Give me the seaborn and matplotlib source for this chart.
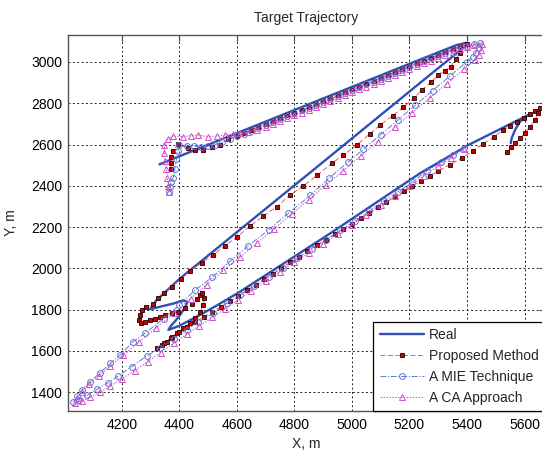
import matplotlib
matplotlib.use("Agg")
import matplotlib.pyplot as plt
import seaborn as sns

# ---------------- data ----------------
real_x = [4331, 4450, 4600, 4800, 5000, 5200, 5364, 5395, 5405, 5380, 5260, 4866, 4403, 4320, 4298,
          4330, 4380, 4414, 4428, 4420, 4395, 4370, 4362, 4400, 4461, 4524, 4611, 4925, 5237, 5405,
          5560, 5613, 5584, 5567, 5555, 5552]
real_y = [2504, 2571, 2655, 2767, 2879, 2991, 3082, 3092, 3090, 3060, 2925, 2477, 1952, 1845, 1802,
          1813, 1830, 1845, 1838, 1810, 1760, 1720, 1702, 1722, 1766, 1815, 1887, 2170, 2461, 2598,
          2706, 2743, 2711, 2671, 2630, 2606]

prop_x = [4371, 4371, 4371, 4379, 4395, 4431, 4455, 4484, 4513, 4540,
          4570, 4600, 4625, 4650, 4675, 4700, 4725, 4750, 4775, 4800, 4825, 4850, 4875, 4900, 4925,
          4950, 4975, 5000, 5025, 5050, 5075, 5100, 5125, 5150, 5175, 5200, 5225, 5250, 5275, 5300,
          5325, 5350, 5375, 5399,
          5376, 5360, 5343, 5322, 5300, 5274, 5243, 5214, 5179, 5142, 5098, 5061, 5017, 4970, 4930,
          4880, 4831, 4785, 4739, 4692, 4646, 4602, 4559, 4518, 4478, 4437, 4405, 4374, 4345, 4327, 4308,
          4285, 4270, 4264, 4260, 4267, 4281, 4298, 4316, 4333, 4350, 4374, 4397, 4420, 4443, 4461,
          4472, 4480, 4486, 4484, 4472, 4455, 4437, 4414, 4391, 4374, 4356, 4339, 4322,
          4345, 4372, 4400, 4428, 4455, 4485, 4515, 4545, 4575, 4605, 4635, 4665, 4695, 4725, 4755,
          4785, 4815, 4845, 4878, 4910, 4940, 4970, 5000, 5030, 5060, 5090, 5120, 5150, 5180, 5210,
          5240, 5270, 5300, 5340, 5382, 5420, 5457, 5492, 5524, 5550, 5575, 5598, 5619, 5637, 5654,
          5648, 5637, 5619, 5602, 5584, 5567, 5552, 5538]
prop_y = [2480, 2510, 2541, 2570, 2601, 2582, 2574, 2574, 2590, 2600,
          2626, 2643, 2657, 2671, 2685, 2699, 2713, 2727, 2741, 2755, 2769, 2783, 2797, 2811, 2825,
          2839, 2853, 2867, 2881, 2895, 2909, 2923, 2937, 2951, 2965, 2979, 2993, 3007, 3021, 3035,
          3049, 3063, 3075, 3087,
          3042, 3012, 2977, 2958, 2937, 2902, 2864, 2824, 2781, 2740, 2695, 2650, 2598, 2549, 2509,
          2452, 2399, 2356, 2299, 2254, 2205, 2154, 2110, 2065, 2028, 1987, 1949, 1911, 1879, 1855, 1827,
          1812, 1798, 1774, 1750, 1737, 1742, 1750, 1755, 1766, 1774, 1782, 1790, 1807, 1828, 1850,
          1871, 1879, 1855, 1823, 1790, 1758, 1734, 1710, 1685, 1669, 1645, 1629, 1613,
          1637, 1664, 1690, 1716, 1742, 1765, 1789, 1815, 1840, 1866, 1894, 1921, 1948, 1975, 2002,
          2029, 2056, 2083, 2113, 2139, 2165, 2191, 2217, 2243, 2269, 2295, 2321, 2347, 2373, 2399,
          2424, 2448, 2472, 2503, 2533, 2570, 2604, 2636, 2668, 2690, 2711, 2728, 2746, 2760, 2776,
          2751, 2719, 2687, 2657, 2630, 2606, 2587, 2565]

mie_x = [4365, 4368, 4372, 4379, 4384, 4390, 4395, 4400, 4426, 4450,
         4475, 4500, 4525, 4550, 4575, 4600, 4625, 4650, 4675, 4700, 4725, 4750, 4775, 4800, 4825,
         4850, 4875, 4900, 4925, 4950, 4975, 5000, 5025, 5050, 5075, 5100, 5125, 5150, 5175, 5200,
         5225, 5250, 5275, 5300, 5325, 5350, 5375, 5400, 5425, 5446,
         5440, 5430, 5420, 5399, 5340, 5280, 5220, 5160, 5100, 5040, 4988, 4920, 4855, 4779, 4710,
         4640, 4576, 4515, 4455, 4400, 4345, 4281, 4240, 4194, 4160, 4125, 4090, 4061, 4045, 4032,
         4050, 4080, 4113, 4153, 4186, 4235, 4287, 4333, 4380, 4425, 4466, 4518, 4565, 4611, 4660,
         4710, 4760, 4810, 4860, 4910, 4960, 5010, 5060, 5110, 5160, 5210, 5260, 5310, 5350, 5390]
mie_y = [2372, 2395, 2418, 2440, 2480, 2530, 2570, 2598, 2592, 2593,
         2588, 2592, 2600, 2611, 2625, 2639, 2653, 2667, 2681, 2695, 2709, 2723, 2737, 2751, 2765,
         2779, 2793, 2807, 2821, 2835, 2849, 2863, 2877, 2891, 2905, 2919, 2933, 2947, 2961, 2975,
         2989, 3003, 3017, 3031, 3045, 3059, 3070, 3079, 3086, 3091,
         3068, 3045, 3025, 3001, 2931, 2861, 2790, 2719, 2648, 2577, 2517, 2436, 2353, 2267, 2186,
         2110, 2034, 1958, 1895, 1822, 1757, 1686, 1645, 1580, 1540, 1495, 1451, 1411, 1380, 1354,
         1362, 1385, 1414, 1446, 1477, 1524, 1576, 1613, 1660, 1703, 1742, 1782, 1831, 1870, 1913,
         1958, 2003, 2048, 2093, 2138, 2185, 2231, 2278, 2325, 2371, 2418, 2472, 2513, 2550, 2585]

ca_x = [4365, 4362, 4358, 4355, 4350, 4348, 4348, 4360, 4379, 4414, 4440, 4466, 4501, 4530, 4559,
        4585, 4611, 4640,
        4670, 4700, 4725, 4750, 4775, 4800, 4825, 4850, 4875, 4900, 4925, 4950, 4975, 5000, 5025,
        5050, 5075, 5100, 5125, 5150, 5175, 5200, 5225, 5250, 5275, 5300, 5325, 5350, 5375, 5400,
        5425, 5452,
        5448, 5440, 5428, 5390, 5330, 5270, 5210, 5150, 5090, 5030, 4970, 4910, 4850, 4790, 4730,
        4670, 4610, 4553, 4495, 4440, 4380, 4320, 4260, 4205, 4160, 4120, 4085, 4060, 4045, 4038,
        4060, 4090, 4125, 4160, 4200, 4245, 4290, 4335, 4380, 4425, 4470, 4515, 4560, 4605, 4650,
        4700, 4750, 4800, 4850, 4900, 4950, 5000, 5050, 5100, 5150, 5200, 5250, 5300, 5345, 5390]
ca_y = [2372, 2400, 2440, 2480, 2520, 2560, 2598, 2625, 2641, 2638, 2643, 2646, 2638, 2641, 2646,
        2650, 2655, 2660,
        2668, 2685, 2699, 2713, 2727, 2741, 2755, 2769, 2783, 2797, 2811, 2825, 2839, 2853, 2867,
        2881, 2895, 2909, 2923, 2937, 2951, 2965, 2979, 2993, 3007, 3021, 3035, 3049, 3061, 3071,
        3080, 3088,
        3060, 3035, 3010, 2965, 2895, 2825, 2755, 2684, 2614, 2544, 2474, 2404, 2333, 2263, 2193,
        2123, 2053, 1990, 1921, 1854, 1783, 1713, 1643, 1579, 1526, 1479, 1438, 1400, 1370, 1346,
        1356, 1375, 1400, 1430, 1465, 1505, 1548, 1592, 1637, 1680, 1722, 1763, 1805, 1848, 1890,
        1939, 1984, 2029, 2074, 2120, 2165, 2212, 2259, 2306, 2352, 2400, 2448, 2495, 2537, 2578]

x_ticks = [4200, 4400, 4600, 4800, 5000, 5200, 5400, 5600]
y_ticks = [1400, 1600, 1800, 2000, 2200, 2400, 2600, 2800, 3000]
labels = ["Real", "Proposed Method", "A MIE Technique", "A CA Approach"]

# ---------------- styling ----------------
sns.set_style("white")
plt.rcParams["font.family"] = ["Liberation Sans", "DejaVu Sans"]

W, H = 542, 451
fig = plt.figure(figsize=(W / 100, H / 100), dpi=100)
L, R, T, B = 67.7, 545.0, 34.7, 411.0
ax = fig.add_axes([L / W, (H - B) / H, (R - L) / W, (B - T) / H])

sns.lineplot(x=real_x, y=real_y, sort=False, estimator=None, ax=ax,
             color="#2f4fb5", linewidth=1.7, label=labels[0])
sns.lineplot(x=prop_x, y=prop_y, sort=False, estimator=None, ax=ax,
             color="#ff3a3a", linewidth=0.6, linestyle=(0, (6, 3)),
             marker="s", markersize=2.4, markerfacecolor="#c80000",
             markeredgecolor="#1a0000", markeredgewidth=0.6, label=labels[1])
sns.lineplot(x=mie_x, y=mie_y, sort=False, estimator=None, ax=ax,
             color="#4a66cc", linewidth=0.6, linestyle=(0, (7, 2, 1.5, 2)),
             marker="o", markersize=4.2, markerfacecolor="none",
             markeredgecolor="#5a74d4", markeredgewidth=0.7, label=labels[2])
sns.lineplot(x=ca_x, y=ca_y, sort=False, estimator=None, ax=ax,
             color="#d050c8", linewidth=0.7, linestyle=(0, (1.5, 1.5)),
             marker="^", markersize=4.0, markerfacecolor="none",
             markeredgecolor="#d050c8", markeredgewidth=0.7, label=labels[3])

ax.set_xlim(4012, 5671)
ax.set_ylim(1309, 3132)
ax.set_xticks(x_ticks)
ax.set_yticks(y_ticks)
ax.set_xticklabels([str(v) for v in x_ticks])
ax.set_yticklabels([str(v) for v in y_ticks])

ax.grid(True, color="#222222", linestyle=(0, (2, 2.5)), linewidth=0.7)
ax.set_axisbelow(True)
ax.tick_params(direction="in", top=True, right=True, length=4, width=0.8,
               labelsize=10, colors="#444444", labelcolor="black")
ax.tick_params(axis="x", pad=5)
ax.tick_params(axis="y", pad=4)
for s in ax.spines.values():
    s.set_visible(True)
    s.set_color("#555555")
    s.set_linewidth(1.0)

ax.set_title("Target Trajectory", fontsize=10, pad=9)
ax.set_xlabel("X, m", fontsize=10, labelpad=4)
ax.set_ylabel("Y, m", fontsize=10, labelpad=9)

leg = ax.legend(loc="lower right", borderaxespad=0, frameon=True, fancybox=False,
                edgecolor="black", framealpha=1, fontsize=10, handlelength=3.2,
                handletextpad=0.35, labelspacing=0.5, borderpad=0.45)
leg.get_frame().set_linewidth(0.9)

fig.savefig("out.png", dpi=100)
